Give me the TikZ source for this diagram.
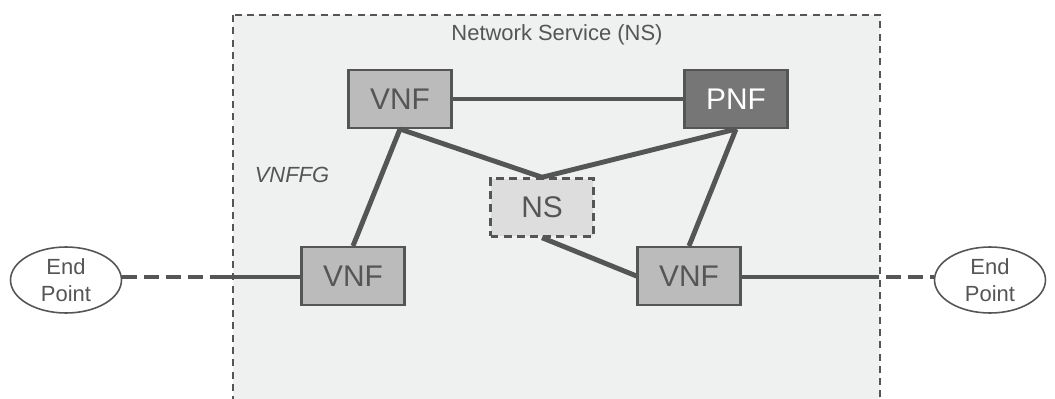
\documentclass[tikz,border=0pt]{standalone}
\usepackage{fontspec}
\setmainfont{Liberation Sans}
\usetikzlibrary{shapes.geometric}

\definecolor{nsback}{HTML}{EEF1F0}
\definecolor{linegray}{HTML}{555555}
\definecolor{textgray}{HTML}{555555}
\definecolor{vnffill}{HTML}{BBBBBB}
\definecolor{pnffill}{HTML}{767676}
\definecolor{nsfill}{HTML}{DDDDDD}

\tikzset{
  vnfbox/.style={draw=linegray, line width=1.2pt, fill=vnffill, text=textgray,
    minimum width=2.06cm, minimum height=1.16cm, font=\fontsize{17}{20}\selectfont},
  pnfbox/.style={vnfbox, fill=pnffill, text=white},
  nsbox/.style={vnfbox, fill=nsfill, line width=1.4pt, dash pattern=on 4.5pt off 3pt},
  endpt/.style={draw=linegray, line width=0.9pt, ellipse, fill=white, text=textgray,
    minimum width=2.22cm, minimum height=1.32cm, inner sep=0pt, align=center,
    font=\fontsize{12.5}{15}\selectfont},
  link/.style={draw=linegray, line width=2.8pt},
  dashlink/.style={link, dash pattern=on 8.5pt off 4pt}
}

\begin{document}
\begin{tikzpicture}[x=0.02cm, y=-0.02cm]
\useasboundingbox (0,0) rectangle (1055,399);
% network service frame
\draw[draw=linegray, line width=1.5pt, fill=nsback, dash pattern=on 4pt off 3pt] (233,15) rectangle (880,430);
\node [text=textgray, font=\fontsize{12.5}{15}\selectfont] (title) at (557,35) {Network Service (NS)};
\node [text=textgray, font=\fontsize{12.5}{15}\selectfont\itshape] (fg) at (292,175) {VNFFG};

% functions
\node [vnfbox] (vnftop) at (400,99) {VNF};
\node [pnfbox] (pnf) at (736,99) {PNF};
\node [nsbox] (ns) at (542,207.5) {NS};
\node [vnfbox] (vnfleft) at (353,276) {VNF};
\node [vnfbox] (vnfright) at (689,276) {VNF};

% end points
\node [endpt] (epleft) at (66,280) {End\\Point};
\node [endpt] (epright) at (990,280) {End\\Point};
\coordinate (cutleft) at (216,277);
\coordinate (cutright) at (864,277);

% links
\draw[link] (vnftop) -- (pnf);
\draw[link] (vnftop.south) -- (vnfleft.north);
\draw[link] (vnftop.south) -- (ns.north);
\draw[link] (pnf.south) -- (ns.north);
\draw[link] (pnf.south) -- (vnfright.north);
\draw[link] (ns.south) -- (vnfright.west);
\draw[dashlink] (epleft.east |- cutleft) -- (cutleft);
\draw[link] (cutleft) -- (vnfleft.west |- cutleft);
\draw[link] (vnfright.east |- cutright) -- (cutright);
\draw[dashlink] (cutright) -- (epright.west |- cutright);
\end{tikzpicture}
\end{document}
